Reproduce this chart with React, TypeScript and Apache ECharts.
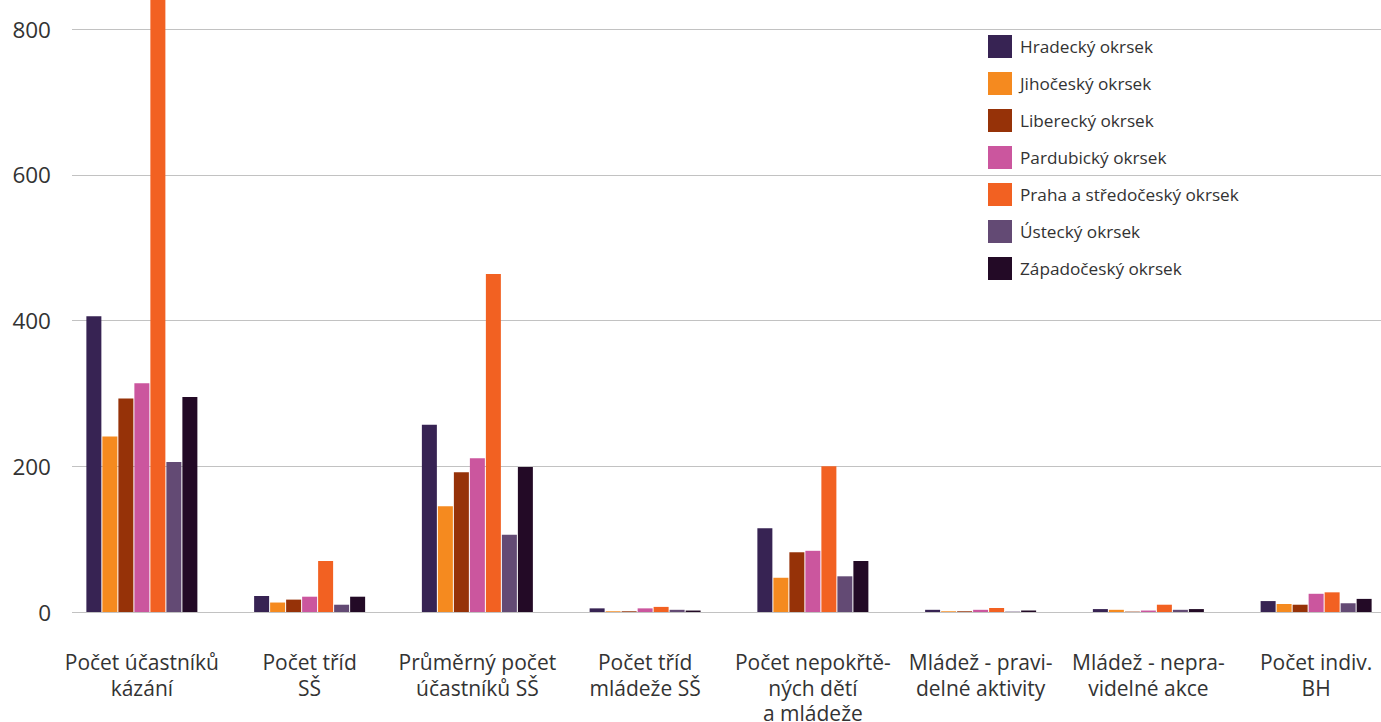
import React, { useEffect, useRef } from "react";
import * as echarts from "echarts";

const categories = [
  "Počet účastníků\nkázání",
  "Počet tříd\nSŠ",
  "Průměrný počet\núčastníků SŠ",
  "Počet tříd\nmládeže SŠ",
  "Počet nepokřtě-\nných dětí\na mládeže",
  "Mládež - pravi-\ndelné aktivity",
  "Mládež - nepra-\nvidelné akce",
  "Počet indiv.\nBH",
];

const seriesNames = [
  "Hradecký okrsek",
  "Jihočeský okrsek",
  "Liberecký okrsek",
  "Pardubický okrsek",
  "Praha a středočeský okrsek",
  "Ústecký okrsek",
  "Západočeský okrsek",
];

const seriesColors = ["#372353", "#F58A1F", "#963208", "#CB569E", "#F26122", "#634A74", "#230A26"];

const hradecky = [406, 22, 257, 5, 115, 3, 4, 15];
const jihocesky = [241, 13, 145, 1, 47, 1, 3, 11];
const liberecky = [293, 17, 192, 1, 82, 1, 0.5, 10];
const pardubicky = [314, 21, 211, 5, 84, 3, 2, 25];
const praha = [900, 70, 464, 7, 200, 5.5, 10, 27];
const ustecky = [206, 10, 106, 3, 49, 0.5, 3, 12];
const zapadocesky = [295, 21, 199, 2, 70, 2, 4, 18];

const seriesValues = [hradecky, jihocesky, liberecky, pardubicky, praha, ustecky, zapadocesky];

const yMin = 0;
const yMax = 1000;
const yInterval = 200;
const yLabelMax = 800;

const FONT = "'Open Sans', 'Noto Sans', sans-serif";

export default function App() {
  const ref = useRef<HTMLDivElement>(null);

  useEffect(() => {
    if (!ref.current) return;
    const chart = echarts.init(ref.current, undefined, { renderer: "svg" });
    const option: any = {
      animation: false,
      backgroundColor: "#ffffff",
      textStyle: { fontFamily: FONT },
      legend: {
        data: seriesNames,
        orient: "vertical",
        left: 988,
        top: 35,
        padding: 0,
        itemWidth: 24,
        itemHeight: 23,
        itemGap: 14,
        icon: "rect",
        textStyle: { fontSize: 17.2, color: "#333333", fontFamily: FONT, padding: [0, 0, 0, 3] },
      },
      grid: [
        { left: 72, right: 0, top: -116.5, bottom: 110, outerBoundsMode: "none", containLabel: false },
        { left: 58, width: 1342, top: -116.5, bottom: 110, outerBoundsMode: "none", containLabel: false },
      ],
      xAxis: [
        { type: "value", gridIndex: 0, show: false, min: 0, max: 1 },
        {
          type: "category",
          gridIndex: 1,
          data: categories,
          axisLine: { show: false },
          axisTick: { show: false },
          axisLabel: {
            interval: 0,
            margin: 37.5,
            fontSize: 21,
            lineHeight: 25.5,
            color: "#333333",
            fontFamily: FONT,
          },
        },
      ],
      yAxis: [
        {
          type: "value",
          gridIndex: 0,
          min: yMin,
          max: yMax,
          interval: yInterval,
          axisLine: { show: false },
          axisTick: { show: false },
          axisLabel: {
            margin: 21,
            fontSize: 22.5,
            color: "#333333",
            fontFamily: FONT,
            formatter: (v: number) => (v > yLabelMax ? "" : String(v)),
          },
          splitLine: { lineStyle: { color: "#c2c2c2", width: 1 } },
        },
        {
          type: "value",
          gridIndex: 1,
          min: yMin,
          max: yMax,
          interval: yInterval,
          show: false,
          splitLine: { show: false },
        },
      ],
      series: [
        { type: "scatter", xAxisIndex: 0, yAxisIndex: 0, data: [], silent: true },
        ...seriesNames.map((name, i) => ({
          name,
          type: "bar",
          xAxisIndex: 1,
          yAxisIndex: 1,
          data: seriesValues[i],
          barWidth: 15,
          barGap: "6.67%",
          itemStyle: { color: seriesColors[i] },
        })),
      ],
    };
    chart.setOption(option);
    return () => chart.dispose();
  }, []);

  return (
    <div
      ref={ref}
      style={{ position: "absolute", left: 0, top: 0, width: 1381, height: 722 }}
    />
  );
}
